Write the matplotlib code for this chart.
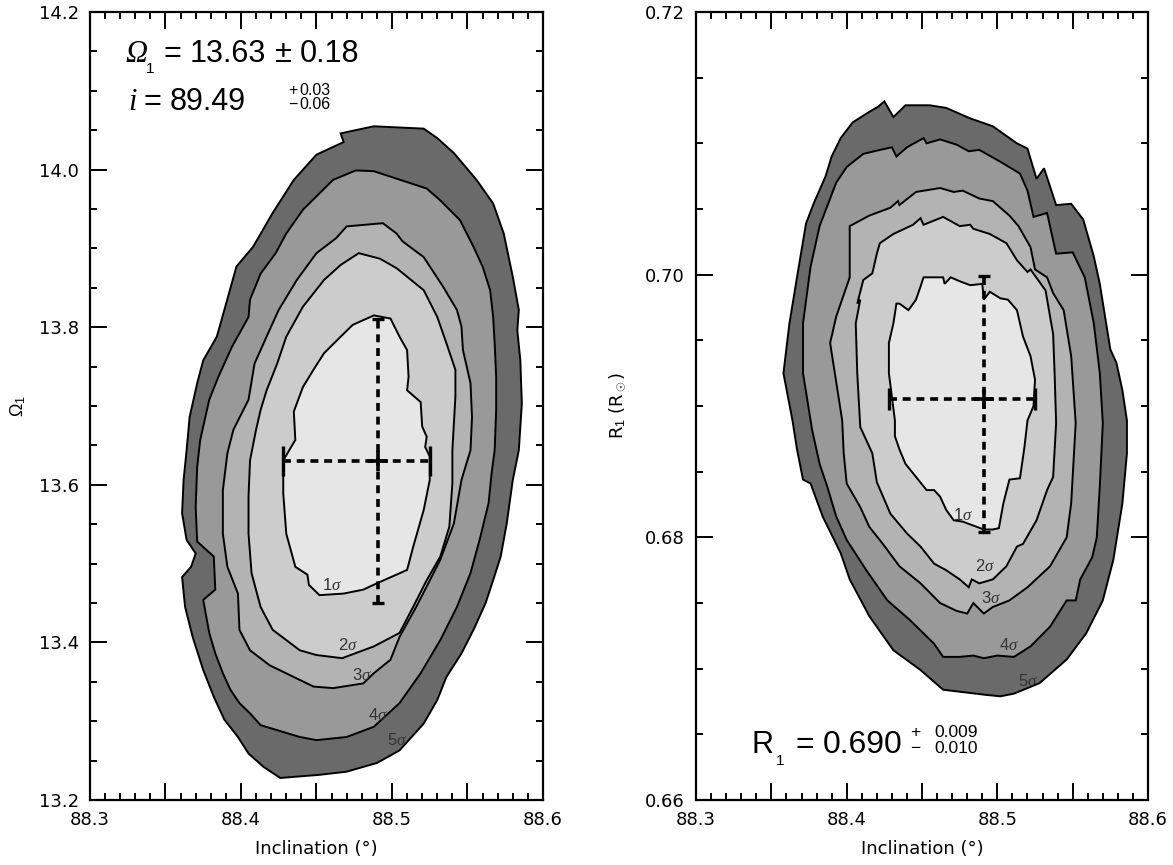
import numpy as np
import matplotlib
matplotlib.use("Agg")
import matplotlib.pyplot as plt
import matplotlib.transforms as mtransforms
from matplotlib.ticker import MultipleLocator, FuncFormatter

plt.rcParams['font.family'] = ['DejaVu Sans']
plt.rcParams['mathtext.fontset'] = 'custom'
plt.rcParams['mathtext.rm'] = 'Liberation Sans'
plt.rcParams['mathtext.it'] = 'Liberation Serif:italic'

# contour outlines, (inclination, parameter) pairs
# left panel: inclination vs Omega_1
om_5sig = [(88.488, 14.055), (88.521, 14.052), (88.530, 14.040), (88.541, 14.021), (88.556, 13.987),
           (88.567, 13.957), (88.574, 13.919), (88.580, 13.864), (88.584, 13.822), (88.583, 13.796),
           (88.585, 13.758), (88.586, 13.703), (88.584, 13.644), (88.580, 13.606), (88.576, 13.551),
           (88.572, 13.509), (88.567, 13.479), (88.562, 13.450), (88.554, 13.416), (88.546, 13.386),
           (88.536, 13.356), (88.530, 13.327), (88.521, 13.297), (88.505, 13.263), (88.490, 13.247),
           (88.470, 13.236), (88.452, 13.232), (88.426, 13.228), (88.415, 13.242), (88.405, 13.259),
           (88.398, 13.280), (88.389, 13.302), (88.382, 13.331), (88.375, 13.365), (88.368, 13.407),
           (88.363, 13.445), (88.361, 13.483), (88.367, 13.496), (88.370, 13.513), (88.364, 13.530),
           (88.361, 13.564), (88.362, 13.606), (88.364, 13.644), (88.366, 13.686), (88.371, 13.729),
           (88.375, 13.758), (88.384, 13.788), (88.389, 13.822), (88.397, 13.877), (88.408, 13.902),
           (88.421, 13.945), (88.435, 13.987), (88.450, 14.019), (88.468, 14.035), (88.466, 14.046)]
om_4sig = [(88.476, 13.999), (88.488, 13.998), (88.523, 13.976), (88.532, 13.961), (88.545, 13.936),
           (88.554, 13.902), (88.560, 13.877), (88.565, 13.847), (88.567, 13.813), (88.568, 13.780),
           (88.569, 13.737), (88.569, 13.695), (88.568, 13.644), (88.566, 13.615), (88.564, 13.577),
           (88.558, 13.530), (88.552, 13.488), (88.543, 13.445), (88.532, 13.403), (88.519, 13.361),
           (88.505, 13.323), (88.488, 13.293), (88.470, 13.280), (88.450, 13.276), (88.439, 13.280),
           (88.413, 13.295), (88.406, 13.310), (88.399, 13.323), (88.393, 13.340), (88.388, 13.361),
           (88.383, 13.386), (88.379, 13.412), (88.375, 13.454), (88.383, 13.467), (88.382, 13.509),
           (88.371, 13.528), (88.370, 13.572), (88.371, 13.623), (88.373, 13.657), (88.379, 13.708),
           (88.385, 13.737), (88.394, 13.775), (88.405, 13.813), (88.406, 13.835), (88.413, 13.868),
           (88.423, 13.894), (88.430, 13.919), (88.441, 13.949), (88.461, 13.987)]
om_3sig = [(88.470, 13.928), (88.494, 13.932), (88.503, 13.919), (88.507, 13.909), (88.521, 13.889),
           (88.534, 13.851), (88.543, 13.822), (88.546, 13.801), (88.547, 13.771), (88.552, 13.729),
           (88.553, 13.686), (88.552, 13.644), (88.549, 13.625), (88.546, 13.606), (88.541, 13.551),
           (88.532, 13.505), (88.523, 13.471), (88.516, 13.445), (88.505, 13.407), (88.499, 13.378),
           (88.488, 13.361), (88.481, 13.348), (88.461, 13.342), (88.448, 13.344), (88.419, 13.371),
           (88.406, 13.390), (88.399, 13.416), (88.398, 13.462), (88.391, 13.496), (88.388, 13.538),
           (88.388, 13.593), (88.391, 13.640), (88.395, 13.670), (88.405, 13.708), (88.409, 13.754),
           (88.420, 13.801), (88.425, 13.822), (88.437, 13.860), (88.450, 13.894), (88.463, 13.913)]
om_2sig = [(88.478, 13.894), (88.492, 13.887), (88.503, 13.875), (88.521, 13.847), (88.530, 13.813),
           (88.536, 13.780), (88.542, 13.746), (88.542, 13.712), (88.541, 13.678), (88.540, 13.644),
           (88.540, 13.602), (88.538, 13.547), (88.532, 13.509), (88.523, 13.479), (88.514, 13.445),
           (88.505, 13.412), (88.488, 13.395), (88.467, 13.380), (88.450, 13.384), (88.439, 13.390),
           (88.421, 13.416), (88.413, 13.445), (88.407, 13.488), (88.405, 13.538), (88.405, 13.585),
           (88.406, 13.631), (88.410, 13.670), (88.413, 13.695), (88.417, 13.720), (88.424, 13.754),
           (88.430, 13.788), (88.441, 13.826), (88.455, 13.860), (88.466, 13.879)]
om_1sig = [(88.488, 13.815), (88.499, 13.811), (88.505, 13.788), (88.510, 13.771), (88.511, 13.737),
           (88.510, 13.720), (88.519, 13.705), (88.520, 13.674), (88.523, 13.661), (88.522, 13.648),
           (88.525, 13.636), (88.525, 13.606), (88.521, 13.568), (88.514, 13.521), (88.510, 13.492),
           (88.490, 13.475), (88.481, 13.467), (88.468, 13.462), (88.452, 13.460), (88.445, 13.473),
           (88.444, 13.486), (88.436, 13.496), (88.430, 13.538), (88.428, 13.589), (88.428, 13.631),
           (88.436, 13.657), (88.435, 13.693), (88.441, 13.724), (88.448, 13.746), (88.455, 13.767),
           (88.466, 13.788), (88.474, 13.803)]

# right panel: inclination vs R_1
r_5sig = [(88.425, 0.7132), (88.431, 0.7120), (88.439, 0.7129), (88.455, 0.7129), (88.466, 0.7127),
          (88.482, 0.7119), (88.497, 0.7113), (88.513, 0.7100), (88.520, 0.7096), (88.526, 0.7073),
          (88.531, 0.7081), (88.539, 0.7053), (88.549, 0.7054), (88.557, 0.7042), (88.564, 0.7014),
          (88.568, 0.6993), (88.575, 0.6943), (88.579, 0.6933), (88.583, 0.6912), (88.586, 0.6889),
          (88.586, 0.6864), (88.583, 0.6826), (88.577, 0.6783), (88.570, 0.6752), (88.559, 0.6727),
          (88.546, 0.6707), (88.528, 0.6689), (88.511, 0.6681), (88.502, 0.6679), (88.493, 0.6680),
          (88.464, 0.6684), (88.449, 0.6699), (88.431, 0.6714), (88.415, 0.6740), (88.402, 0.6768),
          (88.396, 0.6788), (88.384, 0.6816), (88.376, 0.6841), (88.371, 0.6844), (88.367, 0.6867),
          (88.364, 0.6889), (88.358, 0.6925), (88.362, 0.6963), (88.367, 0.6998), (88.373, 0.7039),
          (88.378, 0.7054), (88.386, 0.7075), (88.390, 0.7090), (88.396, 0.7104), (88.404, 0.7116),
          (88.415, 0.7124), (88.421, 0.7128)]
r_4sig = [(88.411, 0.7092), (88.422, 0.7095), (88.430, 0.7097), (88.433, 0.7090), (88.440, 0.7097),
          (88.451, 0.7104), (88.453, 0.7100), (88.462, 0.7103), (88.473, 0.7099), (88.481, 0.7094),
          (88.488, 0.7095), (88.502, 0.7086), (88.515, 0.7077), (88.520, 0.7064), (88.524, 0.7044),
          (88.533, 0.7047), (88.539, 0.7016), (88.550, 0.7017), (88.558, 0.6998), (88.564, 0.6963),
          (88.568, 0.6925), (88.570, 0.6887), (88.568, 0.6839), (88.566, 0.6800), (88.563, 0.6785),
          (88.555, 0.6768), (88.552, 0.6752), (88.546, 0.6752), (88.535, 0.6732), (88.522, 0.6717),
          (88.511, 0.6709), (88.500, 0.6710), (88.491, 0.6708), (88.484, 0.6710), (88.475, 0.6709),
          (88.464, 0.6709), (88.458, 0.6719), (88.442, 0.6737), (88.427, 0.6752), (88.413, 0.6775),
          (88.400, 0.6798), (88.393, 0.6816), (88.387, 0.6839), (88.382, 0.6856), (88.377, 0.6882),
          (88.371, 0.6925), (88.371, 0.6963), (88.376, 0.7006), (88.382, 0.7037), (88.393, 0.7070),
          (88.400, 0.7082)]
r_3sig = [(88.402, 0.7037), (88.415, 0.7045), (88.429, 0.7051), (88.434, 0.7056), (88.435, 0.7053),
          (88.446, 0.7063), (88.462, 0.7066), (88.471, 0.7063), (88.477, 0.7064), (88.488, 0.7058),
          (88.497, 0.7056), (88.508, 0.7045), (88.514, 0.7037), (88.522, 0.7021), (88.525, 0.7004),
          (88.533, 0.6998), (88.537, 0.6986), (88.544, 0.6973), (88.549, 0.6938), (88.552, 0.6887),
          (88.549, 0.6826), (88.546, 0.6800), (88.535, 0.6778), (88.520, 0.6762), (88.508, 0.6752),
          (88.497, 0.6747), (88.491, 0.6742), (88.484, 0.6750), (88.480, 0.6742), (88.473, 0.6744),
          (88.462, 0.6750), (88.449, 0.6765), (88.435, 0.6778), (88.424, 0.6795), (88.415, 0.6808),
          (88.409, 0.6823), (88.400, 0.6841), (88.398, 0.6864), (88.397, 0.6889), (88.389, 0.6948),
          (88.393, 0.6968), (88.402, 0.6998), (88.402, 0.7026)]
r_2sig = [(88.422, 0.7024), (88.431, 0.7031), (88.444, 0.7038), (88.449, 0.7043), (88.451, 0.7038),
          (88.464, 0.7044), (88.475, 0.7037), (88.482, 0.7038), (88.484, 0.7035), (88.495, 0.7031),
          (88.506, 0.7024), (88.513, 0.7011), (88.520, 0.7002), (88.522, 0.7004), (88.532, 0.6988),
          (88.535, 0.6968), (88.537, 0.6955), (88.538, 0.6925), (88.539, 0.6887), (88.537, 0.6846),
          (88.533, 0.6836), (88.526, 0.6813), (88.517, 0.6795), (88.513, 0.6793), (88.506, 0.6778),
          (88.497, 0.6768), (88.488, 0.6765), (88.483, 0.6768), (88.481, 0.6762), (88.475, 0.6768),
          (88.466, 0.6775), (88.458, 0.6780), (88.449, 0.6793), (88.440, 0.6803), (88.429, 0.6818),
          (88.420, 0.6842), (88.417, 0.6864), (88.409, 0.6884), (88.407, 0.6925), (88.406, 0.6963),
          (88.409, 0.6981), (88.407, 0.6978), (88.411, 0.6996), (88.417, 0.7001), (88.420, 0.7016)]
r_1sig = [(88.451, 0.6998), (88.464, 0.6998), (88.465, 0.6993), (88.469, 0.6998), (88.475, 0.6995),
          (88.482, 0.6992), (88.490, 0.6993), (88.491, 0.6981), (88.495, 0.6987), (88.502, 0.6982),
          (88.507, 0.6981), (88.513, 0.6973), (88.517, 0.6953), (88.522, 0.6938), (88.525, 0.6920),
          (88.524, 0.6900), (88.520, 0.6889), (88.518, 0.6869), (88.515, 0.6845), (88.508, 0.6844),
          (88.504, 0.6826), (88.501, 0.6807), (88.497, 0.6806), (88.491, 0.6806), (88.484, 0.6809),
          (88.477, 0.6812), (88.471, 0.6813), (88.466, 0.6821), (88.462, 0.6831), (88.458, 0.6836),
          (88.453, 0.6836), (88.446, 0.6846), (88.439, 0.6856), (88.435, 0.6867), (88.432, 0.6877),
          (88.432, 0.6889), (88.428, 0.6925), (88.428, 0.6948), (88.431, 0.6963), (88.433, 0.6978),
          (88.435, 0.6978), (88.441, 0.6973), (88.446, 0.6981), (88.449, 0.6991)]

# best fits and errors (error bars), and the quoted values
incl_best = 88.491
incl_err_minus, incl_err_plus = 0.063, 0.034
omega_best, omega_err = 13.63, 0.18
r1_best, r1_err_minus, r1_err_plus = 0.6905, 0.0101, 0.0094
quoted_i = '89.49'
quoted_i_err = ('0.03', '0.06')
quoted_r1 = '0.690'
quoted_r1_err = ('0.009', '0.010')

# contour label positions
sigma_names = ['1', '2', '3', '4', '5']
om_label_x = [88.460, 88.471, 88.480, 88.491, 88.503]
om_label_y = [13.473, 13.397, 13.359, 13.308, 13.276]
r_label_x = [88.477, 88.492, 88.496, 88.508, 88.520]
r_label_y = [0.6817, 0.6778, 0.6754, 0.6718, 0.6691]

fill_colors = ['#6a6a6a', '#999999', '#b3b3b3', '#cccccc', '#e6e6e6']
SANS = 'Liberation Sans'
SERIF = 'Liberation Serif'


def draw_contours(ax, outlines):
    for pts, col in zip(outlines, fill_colors):
        xy = np.array(pts)
        ax.fill(xy[:, 0], xy[:, 1], facecolor=col, edgecolor='black', lw=1.4, zorder=2)


def draw_errors(ax, x0, y0, xerr, yerr, xcap, ycap):
    for kw, cap in ((dict(xerr=xerr), xcap), (dict(yerr=yerr), ycap)):
        eb = ax.errorbar(x0, y0, fmt='none', ecolor='black', elinewidth=2.6,
                         capsize=cap, capthick=2.4, zorder=4, **kw)
        eb[2][0].set_linestyle((0, (2.2, 1.6)))
    ax.plot(x0, y0, marker='+', ms=14, mew=2.6, color='black', zorder=5)


def style_axis(ax, ymajor, yminor, yfmt):
    ax.set_xlim(88.3, 88.6)
    ax.xaxis.set_major_locator(MultipleLocator(0.05))
    ax.xaxis.set_minor_locator(MultipleLocator(0.01))
    ax.xaxis.set_major_formatter(FuncFormatter(
        lambda v, p: f'{v:.1f}' if abs(v * 10 - round(v * 10)) < 1e-6 else ''))
    ax.yaxis.set_major_locator(MultipleLocator(ymajor))
    ax.yaxis.set_minor_locator(MultipleLocator(yminor))
    ax.yaxis.set_major_formatter(FuncFormatter(lambda v, p: yfmt % v))
    ax.tick_params(which='both', direction='in', top=True, right=True, width=1.4,
                   labelsize=13, pad=8)
    ax.tick_params(which='major', length=12)
    ax.tick_params(which='minor', length=5)
    for sp in ax.spines.values():
        sp.set_linewidth(1.6)
    ax.set_xlabel('Inclination (°)', fontsize=13, labelpad=8)


def write_run(ax, x, y, pieces):
    # pieces: (text, size, family, style, baseline shift pt, gap before pt)
    renderer = ax.figure.canvas.get_renderer()
    offset = 0.0
    for s, size, family, style, dy, gap in pieces:
        offset += gap
        tr = mtransforms.offset_copy(ax.transAxes, fig=ax.figure, x=offset, y=dy, units='points')
        t = ax.text(x, y, s, transform=tr, fontsize=size, family=family, style=style,
                    va='baseline', ha='left', zorder=6)
        offset += t.get_window_extent(renderer).width * 72.0 / ax.figure.dpi


def write_stack(ax, x_sign, x_num, y_top, y_bot, top, bot, size):
    for yy, sign, num in ((y_top, '+', top), (y_bot, '−', bot)):
        ax.text(x_sign, yy, sign, transform=ax.transAxes, fontsize=size, family=SANS,
                va='center', ha='left')
        ax.text(x_num, yy, num, transform=ax.transAxes, fontsize=size, family=SANS,
                va='center', ha='left')


fig = plt.figure(figsize=(11.73, 8.65), dpi=100)
ax1 = fig.add_axes([0.0767, 0.0751, 0.3862, 0.911])
ax2 = fig.add_axes([0.5934, 0.0751, 0.3853, 0.911])

# left panel
draw_contours(ax1, [om_5sig, om_4sig, om_3sig, om_2sig, om_1sig])
draw_errors(ax1, incl_best, omega_best, [[incl_err_minus], [incl_err_plus]], omega_err, 11, 4.5)
for s, x, y in zip(sigma_names, om_label_x, om_label_y):
    ax1.text(x, y, s + r'$\sigma$', fontsize=12, color='#333333', ha='center', va='center',
             family=SANS, zorder=6)
ax1.set_ylim(13.2, 14.2)
style_axis(ax1, 0.2, 0.05, '%.1f')
ax1.set_ylabel(r'$\Omega_1$', fontsize=13, labelpad=8)
write_run(ax1, 0.077, 0.9365, [('Ω', 22, SERIF, 'italic', 0, 0),
                               ('1', 11, SANS, 'normal', -8, -1),
                               ('=', 22, SANS, 'normal', 0, 7),
                               (f'{omega_best:.2f}', 22, SANS, 'normal', 0, 6),
                               ('±', 22, SANS, 'normal', 0, 6),
                               (f'{omega_err:.2f}', 22, SANS, 'normal', 0, 6)])
write_run(ax1, 0.084, 0.8756, [('i', 22, SERIF, 'italic', 0, 0),
                               ('=', 22, SANS, 'normal', 0, 5),
                               (quoted_i, 22, SANS, 'normal', 0, 6)])
write_stack(ax1, 0.437, 0.462, 0.9005, 0.8830, quoted_i_err[0], quoted_i_err[1], 11.5)

# right panel
draw_contours(ax2, [r_5sig, r_4sig, r_3sig, r_2sig, r_1sig])
draw_errors(ax2, incl_best, r1_best, [[incl_err_minus], [incl_err_plus]],
            [[r1_err_minus], [r1_err_plus]], 8, 4)
for s, x, y in zip(sigma_names, r_label_x, r_label_y):
    ax2.text(x, y, s + r'$\sigma$', fontsize=12, color='#333333', ha='center', va='center',
             family=SANS, zorder=6)
ax2.set_ylim(0.66, 0.72)
style_axis(ax2, 0.02, 0.005, '%.2f')
ax2.set_ylabel(r'R$_1$ (R$_\odot$)', fontsize=13, labelpad=12)
write_run(ax2, 0.122, 0.0596, [('R', 22, SANS, 'normal', 0, 0),
                               ('1', 11, SANS, 'normal', -8.5, 2),
                               ('=', 23, SANS, 'normal', 0, 8),
                               (quoted_r1, 23, SANS, 'normal', 0, 6)])
write_stack(ax2, 0.473, 0.528, 0.0855, 0.0650, quoted_r1_err[0], quoted_r1_err[1], 12.5)

fig.savefig('out.png', dpi=100)
